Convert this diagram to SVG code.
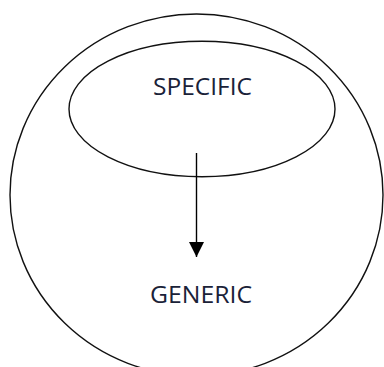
<svg xmlns="http://www.w3.org/2000/svg" width="384" height="367" viewBox="0 0 384 367">
<style>
.shape{fill:none;stroke:#111;stroke-width:1.4}
.lbl{font-family:"Open Sans","Liberation Sans",sans-serif;font-size:24px;fill:#1a2238;text-anchor:middle}
</style>
<defs>
<marker id="ah" markerWidth="15" markerHeight="15" refX="15" refY="7.5" orient="auto" markerUnits="userSpaceOnUse">
<path d="M0,0 L15,7.5 L0,15 Z" fill="#000"/>
</marker>
</defs>
<rect width="384" height="367" fill="#fff"/>
<g id="generic">
<ellipse class="shape" cx="196.5" cy="195" rx="186.5" ry="181"/>
<text class="lbl" x="201" y="303" textLength="102" lengthAdjust="spacingAndGlyphs">GENERIC</text>
</g>
<g id="specific">
<ellipse class="shape" cx="202" cy="109" rx="133" ry="67.7"/>
<text class="lbl" x="202.5" y="95" textLength="99" lengthAdjust="spacingAndGlyphs">SPECIFIC</text>
</g>
<g id="connectors">
<line x1="196.5" y1="153" x2="196.5" y2="257" stroke="#000" stroke-width="1.4" marker-end="url(#ah)"/>
</g>
</svg>
